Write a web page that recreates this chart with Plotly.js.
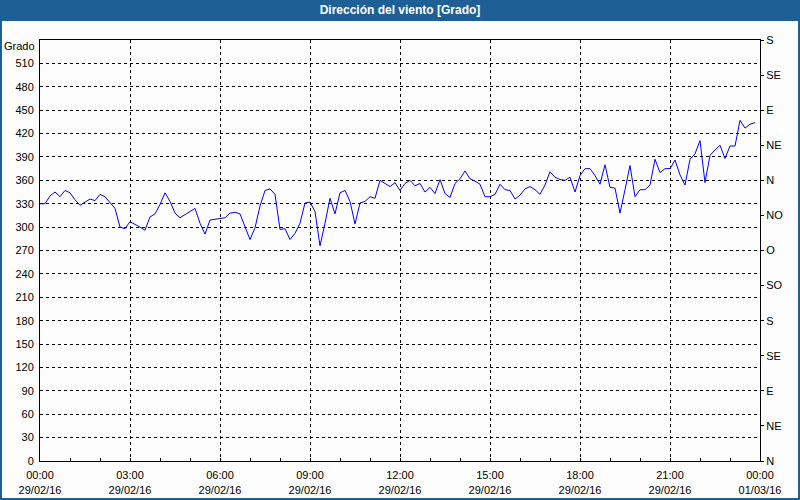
<!DOCTYPE html>
<html>
<head>
<meta charset="utf-8">
<script src="https://cdn.plot.ly/plotly-3.0.1.min.js"></script>
<style>html,body{margin:0;padding:0;background:#fcfdfc;}#chart{width:800px;height:500px;}</style>
</head>
<body>
<div id="chart"></div>
<script>
// Data: wind direction every 10 minutes starting 29/02/16 00:00
const startTime = '2016-02-29 00:00';
const stepMinutes = 10;
const windDir = [
  330,330,340,345,339,347,344,335,328,332,
  336,334,342,339,331,324,300,298,307,304,
  300,296,313,317,329,344,333,318,312,316,
  320,324,305,291,309,310,311,312,318,319,
  317,301,284,299,327,347,349,342,297,298,
  284,292,305,331,332,320,276,305,337,317,
  344,347,333,304,331,333,339,337,360,356,
  352,357,347,356,360,353,356,345,351,343,
  361,343,338,356,362,372,362,359,355,339,
  339,342,355,348,347,336,341,349,352,348,
  342,354,371,364,361,360,364,345,366,375,
  375,366,355,380,351,350,318,348,379,339,
  348,348,354,387,370,375,375,386,367,354,
  387,394,411,357,392,399,405,388,404,404,
  437,427,432,434
];
const xTickVals = ['2016-02-29 00:00','2016-02-29 03:00','2016-02-29 06:00','2016-02-29 09:00','2016-02-29 12:00','2016-02-29 15:00','2016-02-29 18:00','2016-02-29 21:00','2016-03-01 00:00'];
const xTickText = ['00:00<br>29/02/16','03:00<br>29/02/16','06:00<br>29/02/16','09:00<br>29/02/16','12:00<br>29/02/16','15:00<br>29/02/16','18:00<br>29/02/16','21:00<br>29/02/16','00:00<br>01/03/16'];
const yTickVals = [0,30,60,90,120,150,180,210,240,270,300,330,360,390,420,450,480,510];
const y2TickVals = [0,45,90,135,180,225,270,315,360,405,450,495,540];
const y2TickText = ['N','NE','E','SE','S','SO','O','NO','N','NE','E','SE','S'];

function pad(n){return (n<10?'0':'')+n;}
const t0 = new Date(startTime.replace(' ','T')+':00Z').getTime();
const times = windDir.map((v,i)=>{
  const d = new Date(t0 + i*stepMinutes*60000);
  return d.getUTCFullYear()+'-'+pad(d.getUTCMonth()+1)+'-'+pad(d.getUTCDate())+' '+pad(d.getUTCHours())+':'+pad(d.getUTCMinutes());
});

const font = {family:'Liberation Sans, Arial, sans-serif', size:11, color:'#000'};
const W=800,H=500,L=40,R=40,T=40,B=39;
const pw=W-L-R, ph=H-T-B;
const px=x=>(x-L)/pw, py=y=>(H-B-y)/ph;
const bar='#1e6096';

const traces = [
  {x:times, y:windDir, type:'scatter', mode:'lines', line:{color:'#0000ff', width:1}, hoverinfo:'skip'},
  {x:times, y:windDir, type:'scatter', mode:'markers', yaxis:'y2', marker:{opacity:0, size:1}, hoverinfo:'skip'}
];

const layout = {
  width:W, height:H,
  margin:{l:L, r:R, t:T, b:B, pad:0},
  paper_bgcolor:'#fcfdfc', plot_bgcolor:'#fcfdfc',
  showlegend:false, hovermode:false,
  font:font,
  title:{text:'<b>Dirección del viento [Grado]</b>', font:{family:'Liberation Sans, Arial, sans-serif', size:12, color:'#ffffff'}, x:0.5, xref:'container', xanchor:'center', y:1-10/H, yref:'container', yanchor:'middle'},
  xaxis:{type:'date', range:['2016-02-29 00:00','2016-03-01 00:00'], tickmode:'array', tickvals:xTickVals, ticktext:xTickText,
    showline:true, linecolor:'#000', linewidth:1, mirror:true, ticks:'inside', ticklen:3, tickcolor:'#000',
    showgrid:true, gridcolor:'#000', gridwidth:1, griddash:'3px,3px', zeroline:false, tickfont:font, ticklabelstandoff:4,
    minor:{dtick:3600000, ticks:'inside', ticklen:3, tickcolor:'#000', showgrid:false}, fixedrange:true},
  yaxis:{range:[0,540], tickmode:'array', tickvals:yTickVals, ticktext:yTickVals.map(String),
    showline:true, linecolor:'#000', linewidth:1, ticks:'', showgrid:true, gridcolor:'#000', gridwidth:1, griddash:'3px,3px',
    zeroline:false, tickfont:font, ticklabelstandoff:3, fixedrange:true},
  yaxis2:{range:[0,540], overlaying:'y', side:'right', anchor:'x', tickmode:'array', tickvals:y2TickVals, ticktext:y2TickText,
    showline:true, linecolor:'#000', linewidth:1, ticks:'outside', ticklen:3, tickcolor:'#000', showgrid:false, zeroline:false,
    tickfont:font, fixedrange:true},
  shapes:[
    {type:'rect', xref:'paper', yref:'paper', x0:px(0), x1:px(W), y0:py(21), y1:py(0), fillcolor:bar, line:{width:0}, layer:'below'},
    {type:'rect', xref:'paper', yref:'paper', x0:px(1), x1:px(W-1), y0:py(H-1), y1:py(1), fillcolor:'rgba(0,0,0,0)', line:{color:bar, width:2}}
  ],
  annotations:[
    {text:'Grado', xref:'paper', yref:'paper', x:0, y:1, xanchor:'right', yanchor:'middle', xshift:-3, yshift:-6, showarrow:false, font:font}
  ]
};
Plotly.newPlot('chart', traces, layout, {staticPlot:true, displayModeBar:false});
</script>
</body>
</html>
